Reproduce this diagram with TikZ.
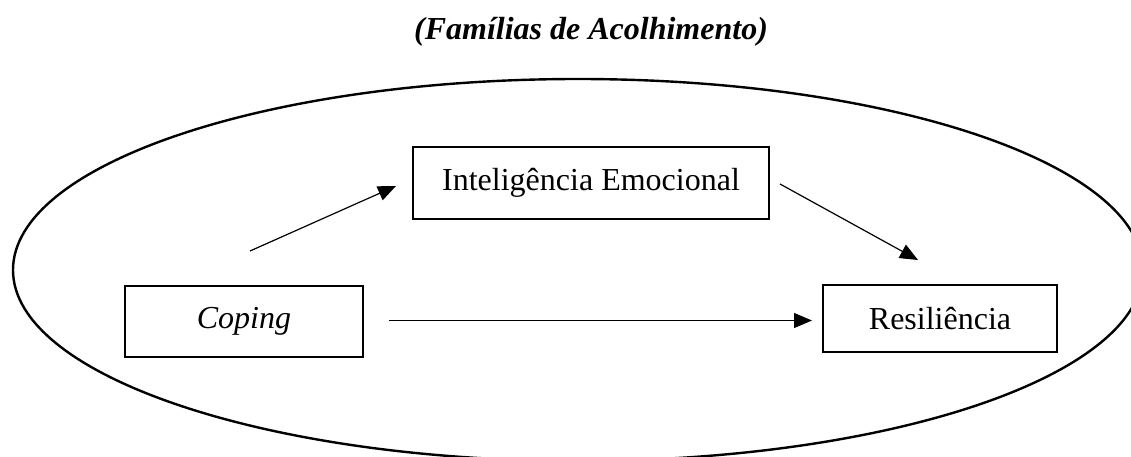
\documentclass[tikz,border=0pt]{standalone}
\usepackage{fontspec}
\setmainfont{Liberation Serif}
\usetikzlibrary{arrows.meta}
\begin{document}
\begin{tikzpicture}[x=1pt,y=-1pt,
  box/.style={draw=black,line width=1.6pt,rectangle,inner sep=0pt,font=\fontsize{32}{38}\selectfont},
  conn/.style={line width=1.2pt,-{Triangle[length=18pt,width=15pt]}},
  ring/.style={line width=2.4pt}]
\useasboundingbox (0,0) rectangle (1131,457);
\clip (0,0) rectangle (1131,457);
\node[font=\fontsize{32}{38}\selectfont\bfseries\itshape] (title) at (591,32) {(Famílias de Acolhimento)};
\draw[ring] (578,270) ellipse [x radius=565, y radius=191];
\node[box,minimum width=356pt,minimum height=72pt] (ie) at (591,183) {Inteligência Emocional};
\node[box,minimum width=238pt,minimum height=71pt] (cop) at (244,321.5) {\itshape Coping};
\node[box,minimum width=234pt,minimum height=67pt] (res) at (940,318.5) {Resiliência};
\coordinate (a1s) at (250,251);
\coordinate (a1e) at (396,186);
\coordinate (a2s) at (780,184);
\coordinate (a2e) at (918,260);
\coordinate (a3s) at (389,320.5);
\coordinate (a3e) at (812,320.5);
\draw[conn] (a1s) -- (a1e);
\draw[conn] (a2s) -- (a2e);
\draw[conn] (a3s) -- (a3e);
\end{tikzpicture}
\end{document}
